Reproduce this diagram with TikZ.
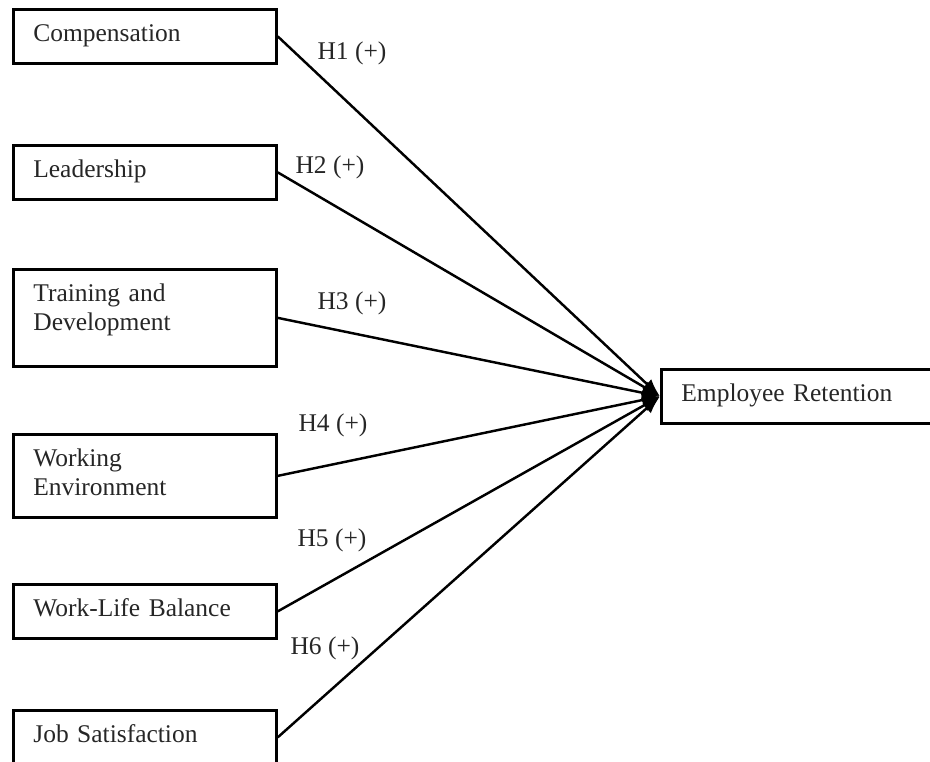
\documentclass[tikz,border=0pt]{standalone}
\usepackage{fontspec}
\setmainfont{Liberation Serif}
\usetikzlibrary{arrows.meta}

\begin{document}
\begin{tikzpicture}[
	every node/.style={font=\fontsize{14.5}{16.5}\selectfont, text=black!85},
	factor/.style={draw=black, line width=1.55pt, anchor=north west, align=left, text width=4.46cm, inner xsep=0.4cm, inner ysep=0pt, text height=0.64cm},
	link/.style={line width=1.4pt, -{Latex[length=3.6mm,width=2.6mm]}}]
		\useasboundingbox (0,0) rectangle (18.6,-15.22);
		\foreach \i/\t/\d/\txt in {1/0.16/0.44/Compensation,2/2.88/0.44/Leadership,3/5.36/1.30/{Training and\\Development},4/8.66/1.02/{Working\\Environment},5/11.66/0.44/Work-Life Balance,6/14.18/0.44/Job Satisfaction}{\node[factor,text depth=\d cm] (f\i) at (0.24,-\t) {\txt};}
		\node[factor,text width=4.7cm,text depth=0.44cm] (er) at (13.2,-7.36) {Employee Retention};
		\foreach \i/\x/\y in {1/7.04/-1.06,2/6.60/-3.34,3/7.04/-6.06,4/6.66/-8.50,5/6.64/-10.80,6/6.50/-12.96}{\node[inner sep=0pt] (h\i) at (\x,\y) {H\i{} (+)};}
		\foreach \i in {1,...,6}{\draw[link] (f\i.east)--(er.west);}
	\end{tikzpicture}
\end{document}
